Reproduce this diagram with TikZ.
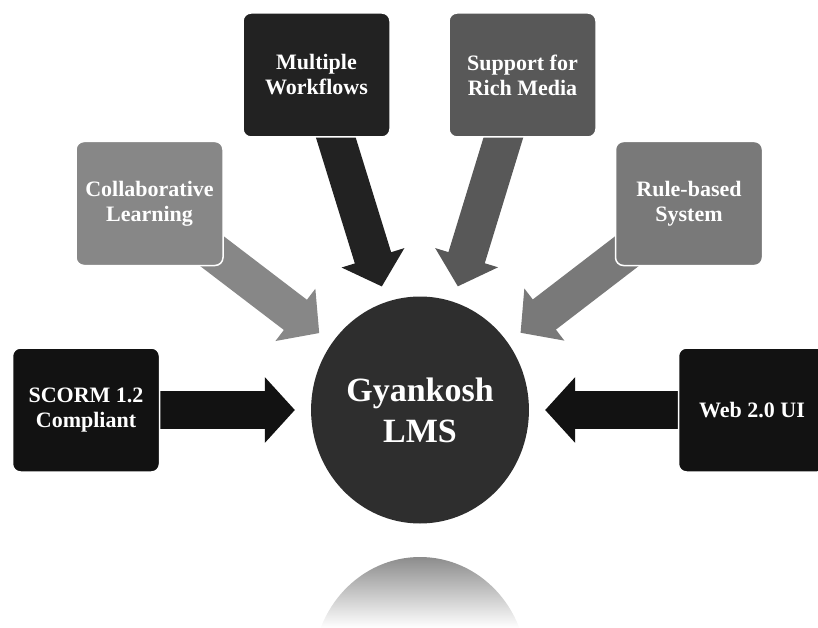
\documentclass[tikz,border=0pt]{standalone}
\usepackage{fontspec}
\setmainfont{Liberation Serif}
\usetikzlibrary{arrows.meta,shapes.geometric,backgrounds}
\definecolor{collabgray}{HTML}{878787}
\definecolor{multigray}{HTML}{222222}
\definecolor{richgray}{HTML}{585858}
\definecolor{rulegray}{HTML}{797979}
\definecolor{blackbox}{HTML}{121212}
\definecolor{hubgray}{HTML}{2E2E2E}
\begin{document}
\begin{tikzpicture}[x=1pt, y=-1pt,
feature/.style={rectangle, rounded corners=8pt, draw=white, line width=1.5pt, minimum width=147pt, minimum height=124pt, text=white, align=center, font=\bfseries\fontsize{22}{25}\selectfont},
hub/.style={ellipse, fill=hubgray, minimum width=214pt, minimum height=227pt, text=white, align=center, font=\bfseries\fontsize{34}{41}\selectfont},
bigarrow/.style={line width=38pt, -{Triangle[length=30pt, width=64pt]}, shorten >=16pt},
]
\useasboundingbox (0,0) rectangle (818,628);
\node[hub] (gyan) at (420,410) {Gyankosh\\LMS};
\node[feature, fill=collabgray] (collab) at (149.5,203.5) {Collaborative\\Learning};
\node[feature, fill=multigray] (multi) at (316.5,75) {Multiple\\Workflows};
\node[feature, fill=richgray] (rich) at (522.5,75) {Support for\\Rich Media};
\node[feature, fill=rulegray] (rule) at (689,203.5) {Rule-based\\System};
\node[feature, fill=blackbox] (scorm) at (86,410) {SCORM 1.2\\Compliant};
\node[feature, fill=blackbox] (web) at (752,410) {Web 2.0 UI};
\begin{scope}[on background layer]
\draw[bigarrow, collabgray] (collab.center) -- (gyan);
\draw[bigarrow, multigray] (multi.center) -- (gyan);
\draw[bigarrow, richgray] (rich.center) -- (gyan);
\draw[bigarrow, rulegray] (rule.center) -- (gyan);
\draw[bigarrow, blackbox] (scorm.center) -- (gyan);
\draw[bigarrow, blackbox] (web.center) -- (gyan);
\end{scope}
% reflection under the hub
\begin{scope}
\clip (300,557) rectangle (540,628);
\clip (420,670) ellipse [x radius=107, y radius=113];
\shade[top color=black!45, bottom color=white] (300,557) rectangle (540,628);
\end{scope}
\end{tikzpicture}
\end{document}
